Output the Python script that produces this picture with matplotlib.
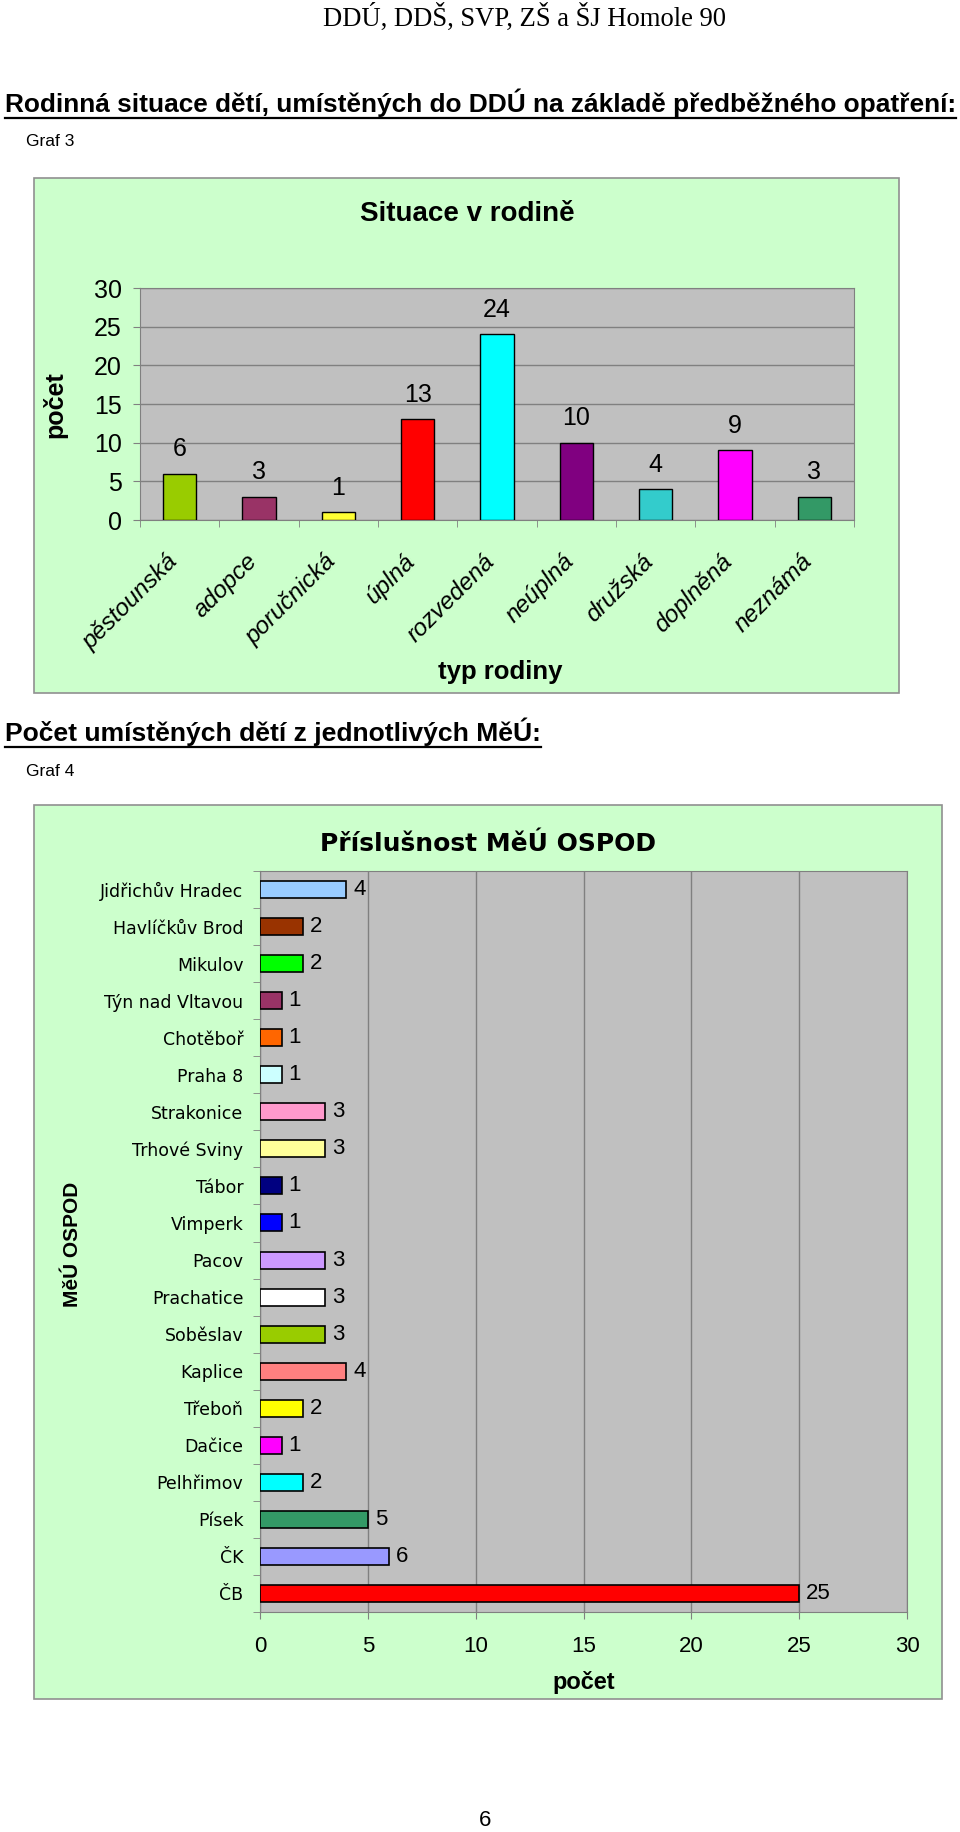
import matplotlib
matplotlib.use("Agg")
import matplotlib.pyplot as plt
import matplotlib.transforms as mtrans
from matplotlib.patches import Rectangle
import numpy as np

# ---------------- data ----------------
family_types = ["pěstounská", "adopce", "poručnická", "úplná", "rozvedená",
                "neúplná", "družská", "doplněná", "neznámá"]
family_counts = [6, 3, 1, 13, 24, 10, 4, 9, 3]
family_colors = ["#99CC00", "#993366", "#FFFF33", "#FF0000", "#00FFFF",
                 "#800080", "#33CCCC", "#FF00FF", "#339966"]

offices = ["Jidřichův Hradec", "Havlíčkův Brod", "Mikulov", "Týn nad Vltavou",
           "Chotěboř", "Praha 8", "Strakonice", "Trhové Sviny", "Tábor",
           "Vimperk", "Pacov", "Prachatice", "Soběslav", "Kaplice", "Třeboň",
           "Dačice", "Pelhřimov", "Písek", "ČK", "ČB"]
office_counts = [4, 2, 2, 1, 1, 1, 3, 3, 1, 1, 3, 3, 3, 4, 2, 1, 2, 5, 6, 25]
office_colors = ["#99CCFF", "#993300", "#00FF00", "#993366", "#FF6600",
                 "#CCFFFF", "#FF99CC", "#FFFF99", "#000080", "#0000FF",
                 "#CC99FF", "#FFFFFF", "#99CC00", "#FF8080", "#FFFF00",
                 "#FF00FF", "#00FFFF", "#339966", "#9999FF", "#FF0000"]

top_yticks = [0, 5, 10, 15, 20, 25, 30]
bottom_xticks = [0, 5, 10, 15, 20, 25, 30]

# ---------------- fonts ----------------
ARIAL = ["Liberation Sans", "DejaVu Sans"]
WIDE = ["DejaVu Sans"]
SERIF = ["Liberation Serif", "DejaVu Serif"]
plt.rcParams["font.family"] = ARIAL

W, H = 960, 1832
fig = plt.figure(figsize=(W / 100, H / 100), dpi=100)
fig.patch.set_facecolor("white")


def fx(x):
    return x / W


def fy(y):
    return 1 - y / H


# ---------------- page texts ----------------
th = fig.text(fx(726), fy(18), "DDÚ, DDŠ, SVP, ZŠ a ŠJ Homole 90", family=SERIF,
              fontsize=19, ha="right", va="center")
t1 = fig.text(fx(5), fy(103), "Rodinná situace dětí, umístěných do DDÚ na základě předběžného opatření:",
              family=ARIAL, fontsize=17, fontweight="bold", ha="left", va="center")
fig.text(fx(26), fy(142), "Graf 3", family=ARIAL, fontsize=12.5, ha="left", va="center")
t2 = fig.text(fx(5), fy(732), "Počet umístěných dětí z jednotlivých MěÚ:",
              family=ARIAL, fontsize=16, fontweight="bold", ha="left", va="center")
fig.text(fx(26), fy(772), "Graf 4", family=ARIAL, fontsize=12.5, ha="left", va="center")
fig.text(fx(485), fy(1820), "6", family=ARIAL, fontsize=16, ha="center", va="center")

# ---------------- panels ----------------
for (x0, y0, x1, y1) in [(34, 178, 899, 693), (34, 805, 942, 1699)]:
    fig.patches.append(Rectangle((fx(x0), fy(y1)), fx(x1) - fx(x0), fy(y0) - fy(y1),
                                 transform=fig.transFigure, facecolor="#CCFFCC",
                                 edgecolor="#909090", linewidth=1.2, zorder=-5))

# ---------------- top chart ----------------
ax1 = fig.add_axes([fx(140), fy(520), fx(854) - fx(140), fy(288) - fy(520)])
ax1.set_zorder(2)
ax1.set_facecolor("#C0C0C0")
x = np.arange(len(family_types))
bars = ax1.bar(x, family_counts, width=0.42, color=family_colors,
               edgecolor="black", linewidth=1.0, zorder=3)
ax1.set_xlim(-0.5, len(family_types) - 0.5)
ax1.set_ylim(0, 30)
ax1.set_yticks(top_yticks)
ax1.set_yticklabels([str(v) for v in top_yticks], family=ARIAL, fontsize=18)
ax1.yaxis.grid(True, color="#808080", linewidth=1.0, zorder=1)
ax1.set_axisbelow(True)
ax1.set_xticks(x)
ax1.set_xticklabels(family_types, rotation=45, ha="right", rotation_mode="anchor",
                    family=ARIAL, fontsize=17.5, style="italic")
ax1.tick_params(axis="x", length=0, pad=20)
shift = mtrans.ScaledTranslation(-14 / 100, -2 / 100, fig.dpi_scale_trans)
for lab in ax1.get_xticklabels():
    lab.set_transform(lab.get_transform() + shift)
ax1.set_xticks(np.arange(-0.5, len(family_types)), minor=True)
ax1.tick_params(axis="x", which="minor", length=5, color="#808080", direction="out")
ax1.tick_params(axis="y", length=5, color="#808080", pad=8)
for s in ax1.spines.values():
    s.set_color("#808080")
for b, v in zip(bars, family_counts):
    ax1.annotate(str(v), (b.get_x() + b.get_width() / 2, v), xytext=(0, 9),
                 textcoords="offset points", ha="center", va="bottom",
                 family=ARIAL, fontsize=18)
fig.text(fx(467), fy(214), "Situace v rodině", family=ARIAL, fontsize=20,
         fontweight="bold", ha="center", va="center")
fig.text(fx(55), fy(405), "počet", family=ARIAL, fontsize=18, fontweight="bold",
         ha="center", va="center", rotation=90)
fig.text(fx(500), fy(672), "typ rodiny", family=ARIAL, fontsize=18.5, fontweight="bold",
         ha="center", va="center")

# ---------------- bottom chart ----------------
ax2 = fig.add_axes([fx(260), fy(1612), fx(907) - fx(260), fy(871) - fy(1612)])
ax2.set_zorder(2)
ax2.set_facecolor("#C0C0C0")
y = np.arange(len(offices))
hb = ax2.barh(y, office_counts, height=0.46, color=office_colors,
              edgecolor="black", linewidth=1.2, zorder=3)
ax2.set_ylim(len(offices) - 0.5, -0.5)
ax2.set_xlim(0, 30)
ax2.set_xticks(bottom_xticks)
ax2.set_xticklabels([str(v) for v in bottom_xticks], family=ARIAL, fontsize=16)
ax2.xaxis.grid(True, color="#808080", linewidth=1.0, zorder=1)
ax2.set_axisbelow(True)
ax2.set_yticks(y)
ax2.set_yticklabels(offices, family=WIDE, fontsize=12.5)
ax2.tick_params(axis="y", length=0, pad=12)
ax2.set_yticks(np.arange(-0.5, len(offices)), minor=True)
ax2.tick_params(axis="y", which="minor", length=5, color="#808080", direction="out")
ax2.tick_params(axis="x", length=5, color="#808080", pad=12)
for s in ax2.spines.values():
    s.set_color("#808080")
for b, v in zip(hb, office_counts):
    ax2.annotate(str(v), (v, b.get_y() + b.get_height() / 2), xytext=(5, 0),
                 textcoords="offset points", ha="left", va="center",
                 family=ARIAL, fontsize=16)
fig.text(fx(488), fy(844), "Příslušnost MěÚ OSPOD", family=WIDE, fontsize=18,
         fontweight="bold", ha="center", va="center")
fig.text(fx(72), fy(1244), "MěÚ OSPOD", family=ARIAL, fontsize=15, fontweight="bold",
         ha="center", va="center", rotation=90)
fig.text(fx(584), fy(1682), "počet", family=ARIAL, fontsize=17, fontweight="bold",
         ha="center", va="center")

# fit heading widths and underline
fig.canvas.draw()
r = fig.canvas.get_renderer()
for t, target in ((t1, 952), (t2, 535), (th, 404)):
    bb = t.get_window_extent(r)
    t.set_fontsize(t.get_fontsize() * target / bb.width)
fig.canvas.draw()
for t in (t1, t2):
    bb = t.get_window_extent(r)
    yline = (bb.y0 - 1) / H
    fig.add_artist(plt.Line2D([bb.x0 / W, bb.x1 / W], [yline, yline],
                              transform=fig.transFigure, color="black", linewidth=1.6))

fig.savefig("out.png", dpi=100)
